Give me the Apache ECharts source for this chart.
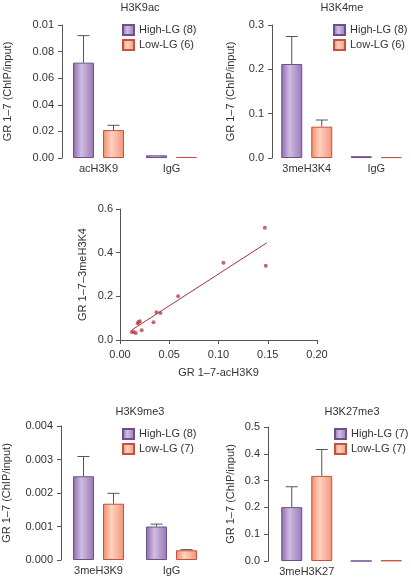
<!DOCTYPE html>
<html><head><meta charset="utf-8">
<script src="https://cdn.jsdelivr.net/npm/echarts@6/dist/echarts.min.js"></script>
<style>html,body{margin:0;padding:0;background:#fff}#c{width:411px;height:581px}</style>
</head><body><div id="c"></div>
<script>
// ---------- data ----------
const categoriesAc = ['acH3K9', 'IgG'];
const categoriesK4 = ['3meH3K4', 'IgG'];
const categoriesK9me3 = ['3meH3K9', 'IgG'];
const categoriesK27 = ['3meH3K27', 'IgG'];

const acHigh = [0.0717, 0.002];
const acHighErr = [0.092, null];
const acLow = [0.021, 0.0008];
const acLowErr = [0.0246, null];
const acTickLabels = ['0.00', '0.02', '0.04', '0.06', '0.08', '0.01'];

const k4High = [0.212, 0.004];
const k4HighErr = [0.274, null];
const k4Low = [0.0706, 0.002];
const k4LowErr = [0.0857, null];

const k9me3High = [0.0025, 0.001];
const k9me3HighErr = [0.00309, 0.00107];
const k9me3Low = [0.00168, 0.00029];
const k9me3LowErr = [0.00199, 0.00031];

const k27High = [0.201, 0];
const k27HighErr = [0.277, null];
const k27Low = [0.3175, 0.002];
const k27LowErr = [0.416, null];

const scatterX = [0.147, 0.148, 0.105, 0.059, 0.037, 0.041, 0.034, 0.022, 0.019, 0.018, 0.020, 0.012, 0.014, 0.016];
const scatterY = [0.514, 0.340, 0.354, 0.200, 0.127, 0.124, 0.081, 0.045, 0.083, 0.077, 0.086, 0.037, 0.037, 0.032];
const fitX = [0.012, 0.149];
const fitY = [0.046, 0.445];

const legendNames = [
  ['High-LG (8)', 'Low-LG (6)'],
  ['High-LG (8)', 'Low-LG (6)'],
  ['High-LG (8)', 'Low-LG (7)'],
  ['High-LG (7)', 'Low-LG (7)']
];
const titles = ['H3K9ac', 'H3K4me', 'H3K9me3', 'H3K27me3'];
// ---------- style ----------
const FONT = 'Liberation Sans, Arial, sans-serif';
const TXT = '#333';
const AX = '#555';
const purple = {type:'linear',x:0,y:0,x2:1,y2:0,colorStops:[{offset:0,color:'#8c6aab'},{offset:0.4,color:'#d0bde2'},{offset:1,color:'#9677b5'}]};
const salmon = {type:'linear',x:0,y:0,x2:1,y2:0,colorStops:[{offset:0,color:'#f28a68'},{offset:0.4,color:'#fdd2c1'},{offset:1,color:'#f49577'}]};
const purpleBorder = '#6d4f8d';
const salmonBorder = '#c9503a';
const BW = 21, GAP = 9;

const barPanels = [
  {cats: categoriesAc, hi: acHigh, hiE: acHighErr, lo: acLow, loE: acLowErr, max: 0.1, interval: 0.02,
   fmt: (v, i) => acTickLabels[i], grid: {left: 62, top: 25, width: 146, height: 133}, nameGap: 49, offset: 0},
  {cats: categoriesK4, hi: k4High, hiE: k4HighErr, lo: k4Low, loE: k4LowErr, max: 0.3, interval: 0.1,
   fmt: v => v.toFixed(1), grid: {left: 272, top: 25, width: 147, height: 133}, nameGap: 36, offset: 0},
  {cats: categoriesK9me3, hi: k9me3High, hiE: k9me3HighErr, lo: k9me3Low, loE: k9me3LowErr, max: 0.004, interval: 0.001,
   fmt: v => v.toFixed(3), grid: {left: 62, top: 426, width: 146, height: 134}, nameGap: 49, offset: 1},
  {cats: categoriesK27, hi: k27High, hiE: k27HighErr, lo: k27Low, loE: k27LowErr, max: 0.5, interval: 0.1,
   fmt: v => v.toFixed(1), grid: {left: 272, top: 427, width: 147, height: 134}, nameGap: 32, offset: 4}
];
const legendPos = [{left: 122, top: 24}, {left: 333, top: 24}, {left: 122, top: 428}, {left: 334, top: 428}];
const titlePos = [{x: 140, y: 2}, {x: 342, y: 2}, {x: 140, y: 406}, {x: 352, y: 406}];

const grid = [], xAxis = [], yAxis = [], series = [], legend = [], title = [];

barPanels.forEach((p, k) => {
  grid.push(p.grid);
  xAxis.push({type: 'category', gridIndex: k, data: p.cats, axisLine: {show: false}, axisTick: {show: false},
    axisLabel: {color: TXT, fontFamily: FONT, fontSize: 11, margin: 5}});
  yAxis.push({type: 'value', gridIndex: k, min: 0, max: p.max, interval: p.interval, offset: p.offset,
    name: 'GR 1\u20137 (ChIP/input)', nameLocation: 'middle', nameGap: p.nameGap,
    nameTextStyle: {color: TXT, fontFamily: FONT, fontSize: 11},
    axisLine: {show: true, lineStyle: {color: AX, width: 1}},
    axisTick: {show: true, length: 4, lineStyle: {color: AX}},
    splitLine: {show: false},
    axisLabel: {color: TXT, fontFamily: FONT, fontSize: 11, margin: 8, formatter: p.fmt}});
  const names = legendNames[k];
  series.push({type: 'bar', name: names[0], xAxisIndex: k, yAxisIndex: k, data: p.hi, barWidth: BW, barGap: (GAP / BW * 100) + '%',
    itemStyle: {color: purple, borderColor: purpleBorder, borderWidth: 1}, emphasis: {disabled: true}});
  series.push({type: 'bar', name: names[1], xAxisIndex: k, yAxisIndex: k, data: p.lo, barWidth: BW, barGap: (GAP / BW * 100) + '%',
    itemStyle: {color: salmon, borderColor: salmonBorder, borderWidth: 1}, emphasis: {disabled: true}});
  const errData = [];
  p.cats.forEach((c, i) => {
    if (p.hiE[i] != null) errData.push([i, p.hi[i], p.hiE[i], -1]);
    if (p.loE[i] != null) errData.push([i, p.lo[i], p.loE[i], 1]);
  });
  series.push({type: 'custom', xAxisIndex: k, yAxisIndex: k, data: errData, z: 1, silent: true,
    renderItem: function (params, api) {
      const base = api.coord([api.value(0), api.value(1)]);
      const top = api.coord([api.value(0), api.value(2)]);
      const x = base[0] + api.value(3) * (BW + GAP) / 2;
      const st = {stroke: '#555', lineWidth: 1};
      return {type: 'group', children: [
        {type: 'line', shape: {x1: x, y1: base[1], x2: x, y2: top[1]}, style: st},
        {type: 'line', shape: {x1: x - 6, y1: top[1], x2: x + 6, y2: top[1]}, style: st}
      ]};
    }});
  legend.push(Object.assign({data: names.map(n => ({name: n, icon: 'rect'})), orient: 'vertical', padding: 0,
    itemWidth: 11, itemHeight: 10, itemGap: 3,
    textStyle: {color: TXT, fontFamily: FONT, fontSize: 11}, selectedMode: false}, legendPos[k]));
  title.push({text: titles[k], left: titlePos[k].x, top: titlePos[k].y, textAlign: 'center', padding: 0,
    textStyle: {color: TXT, fontFamily: FONT, fontSize: 11, fontWeight: 'normal'}});
});

// scatter panel
const si = 4;
grid.push({left: 120, top: 209, width: 197, height: 131});
xAxis.push({type: 'value', gridIndex: si, min: 0, max: 0.2, interval: 0.05,
  name: 'GR 1\u20137-acH3K9', nameLocation: 'middle', nameGap: 27,
  nameTextStyle: {color: TXT, fontFamily: FONT, fontSize: 11},
  axisLine: {show: true, onZero: false, lineStyle: {color: AX}}, axisTick: {show: true, length: 4, lineStyle: {color: AX}},
  splitLine: {show: false}, axisLabel: {color: TXT, fontFamily: FONT, fontSize: 11, margin: 9, formatter: v => v.toFixed(2)}});
yAxis.push({type: 'value', gridIndex: si, min: 0, max: 0.6, interval: 0.2,
  name: 'GR 1\u20137\u20133meH3K4', nameLocation: 'middle', nameGap: 32,
  nameTextStyle: {color: TXT, fontFamily: FONT, fontSize: 11},
  axisLine: {show: true, onZero: false, lineStyle: {color: AX}}, axisTick: {show: true, length: 4, lineStyle: {color: AX}},
  splitLine: {show: false}, axisLabel: {color: TXT, fontFamily: FONT, fontSize: 11, margin: 7, formatter: v => v.toFixed(1)}});
series.push({type: 'line', xAxisIndex: si, yAxisIndex: si, data: fitX.map((x, i) => [x, fitY[i]]), symbol: 'none',
  lineStyle: {color: '#a83434', width: 1}, silent: true});
series.push({type: 'scatter', xAxisIndex: si, yAxisIndex: si, data: scatterX.map((x, i) => [x, scatterY[i]]),
  symbolSize: 4, itemStyle: {color: '#b8404e'}, silent: true});

const chart = echarts.init(document.getElementById('c'), null, {renderer: 'canvas'});
chart.setOption({animation: false, backgroundColor: '#fff', title, grid, xAxis, yAxis, series, legend});
</script></body></html>
